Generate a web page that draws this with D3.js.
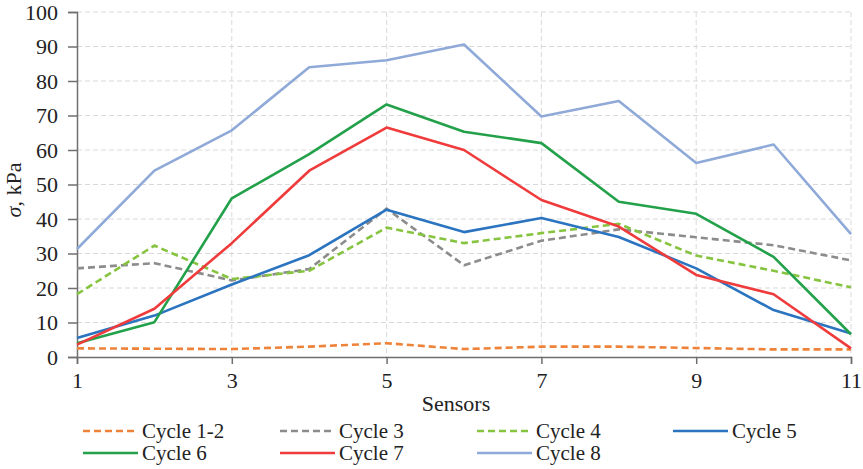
<!DOCTYPE html>
<html>
<head>
<meta charset="utf-8">
<script src="https://cdn.jsdelivr.net/npm/d3@7"></script>
<style>
	body { margin: 0; background: #fff; }
	svg text { fill: #222; }
</style>
</head>
<body>
<div id="holder" style="width:863px;height:469px">
	<svg id="chart"></svg>
</div>
<script>
const sensors = [1, 2, 3, 4, 5, 6, 7, 8, 9, 10, 11]
const xTicks = [1, 3, 5, 7, 9, 11]
const yTicks = [0, 10, 20, 30, 40, 50, 60, 70, 80, 90, 100]

const cycle12 = [2.5, 2.4, 2.3, 3, 4, 2.3, 3, 3, 2.6, 2.2, 2.2]
const cycle3 = [25.7, 27.2, 22.2, 25.5, 43, 26.6, 33.7, 37, 34.7, 32.4, 28]
const cycle4 = [18.2, 32.3, 22.6, 25, 37.5, 33, 35.9, 38.6, 29.4, 25, 20.2]
const cycle5 = [5.5, 12, 21, 29.5, 42.7, 36.2, 40.3, 34.8, 25.7, 13.6, 6.8]
const cycle6 = [4, 10.1, 46, 58.8, 73.2, 65.3, 62, 45, 41.5, 29, 6.6]
const cycle7 = [3.6, 14, 33, 54, 66.5, 60, 45.5, 37.8, 23.8, 18.2, 2.5]
const cycle8 = [31.3, 54, 65.7, 84, 86, 90.6, 69.7, 74.2, 56.2, 61.6, 35.6]

const seriesNames = ["Cycle 1-2", "Cycle 3", "Cycle 4", "Cycle 5", "Cycle 6", "Cycle 7", "Cycle 8"]
const seriesValues = [cycle12, cycle3, cycle4, cycle5, cycle6, cycle7, cycle8]
const seriesColors = ["#ee8238", "#8c8c8c", "#86c440", "#2b74c0", "#23a14a", "#ef3b3b", "#8fa9d8"]
const seriesDashed = [true, true, true, false, false, false, false]

const margin = { top: 12, right: 12, bottom: 112, left: 77 }
const fontFamily = "'Liberation Serif', 'Tinos', 'Times New Roman', 'Noto Serif', 'DejaVu Serif', serif"

function makeLinePlot(holder, svgElement) {
	const viewWidth = holder.clientWidth
	const viewHeight = holder.clientHeight
	const width = viewWidth - margin.left - margin.right
	const height = viewHeight - margin.top - margin.bottom

	const svg = d3.select(svgElement)
		.attr("width", viewWidth)
		.attr("height", viewHeight)
		.append("g")
		.attr("transform", "translate(" + margin.left + "," + margin.top + ")")

	const x = d3.scaleLinear().domain([1, 11]).range([0, width])
	const y = d3.scaleLinear().domain([0, 100]).range([height, 0])

	// grid lines
	svg.append("g")
		.selectAll("line")
		.data(yTicks.slice(1))
		.enter()
		.append("line")
		.attr("x1", 0).attr("x2", width)
		.attr("y1", d => y(d)).attr("y2", d => y(d))
		.attr("stroke", "#d9d9d9")
		.attr("stroke-dasharray", "5,3")
	svg.append("g")
		.selectAll("line")
		.data(xTicks.slice(1))
		.enter()
		.append("line")
		.attr("x1", d => x(d)).attr("x2", d => x(d))
		.attr("y1", 0).attr("y2", height)
		.attr("stroke", "#d9d9d9")
		.attr("stroke-dasharray", "5,3")

	const xAxis = svg.append("g")
		.attr("transform", "translate(0," + height + ")")
		.call(d3.axisBottom(x).tickValues(xTicks).tickSize(7).tickPadding(8).tickFormat(d3.format("d")))
	const yAxis = svg.append("g")
		.call(d3.axisLeft(y).tickValues(yTicks).tickSize(9).tickPadding(10))
	;[xAxis, yAxis].forEach(a => {
		a.attr("font-family", fontFamily).attr("font-size", 22)
		a.select(".domain").attr("stroke", "#6f6f6f").attr("stroke-width", 1.5)
		a.selectAll(".tick line").attr("stroke", "#6f6f6f").attr("stroke-width", 1.5)
		a.selectAll(".tick text").attr("fill", "#222")
	})

	svg.append("text")
		.attr("x", width / 2 - 8)
		.attr("y", height + 54)
		.attr("font-family", fontFamily)
		.attr("font-size", 22)
		.style("text-anchor", "middle")
		.text("Sensors")

	const yTitle = svg.append("text")
		.attr("transform", "rotate(-90)")
		.attr("x", -(190 - margin.top))
		.attr("y", -margin.left + 21)
		.attr("font-family", fontFamily)
		.attr("font-size", 22)
		.style("text-anchor", "middle")
	yTitle.append("tspan").style("font-style", "italic").text("σ")
	yTitle.append("tspan").text(", kPa")

	const line = d3.line()
		.x((d, i) => x(sensors[i]))
		.y(d => y(d))

	svg.append("g")
		.selectAll("path")
		.data(seriesValues)
		.enter()
		.append("path")
		.attr("d", line)
		.attr("fill", "none")
		.attr("stroke", (d, i) => seriesColors[i])
		.attr("stroke-width", 2.6)
		.attr("stroke-linejoin", "round")
		.attr("stroke-dasharray", (d, i) => seriesDashed[i] ? "7,4" : null)

	// legend
	const legend = d3.select(svgElement).append("g")
	const cols = [83, 280, 477, 673]
	const rows = [431, 453]
	const items = legend.selectAll("g")
		.data(seriesNames)
		.enter()
		.append("g")
		.attr("transform", (d, i) => "translate(" + cols[i % 4] + "," + rows[Math.floor(i / 4)] + ")")
	items.append("line")
		.attr("x1", 0).attr("x2", 55)
		.attr("y1", 0).attr("y2", 0)
		.attr("stroke", (d, i) => seriesColors[i])
		.attr("stroke-width", 2.6)
		.attr("stroke-dasharray", (d, i) => seriesDashed[i] ? "7,4" : null)
	items.append("text")
		.attr("x", 59)
		.attr("y", 0)
		.attr("dy", "0.33em")
		.attr("font-family", fontFamily)
		.attr("font-size", 21)
		.text(d => d)
}

makeLinePlot(document.getElementById("holder"), document.getElementById("chart"))
</script>
</body>
</html>
